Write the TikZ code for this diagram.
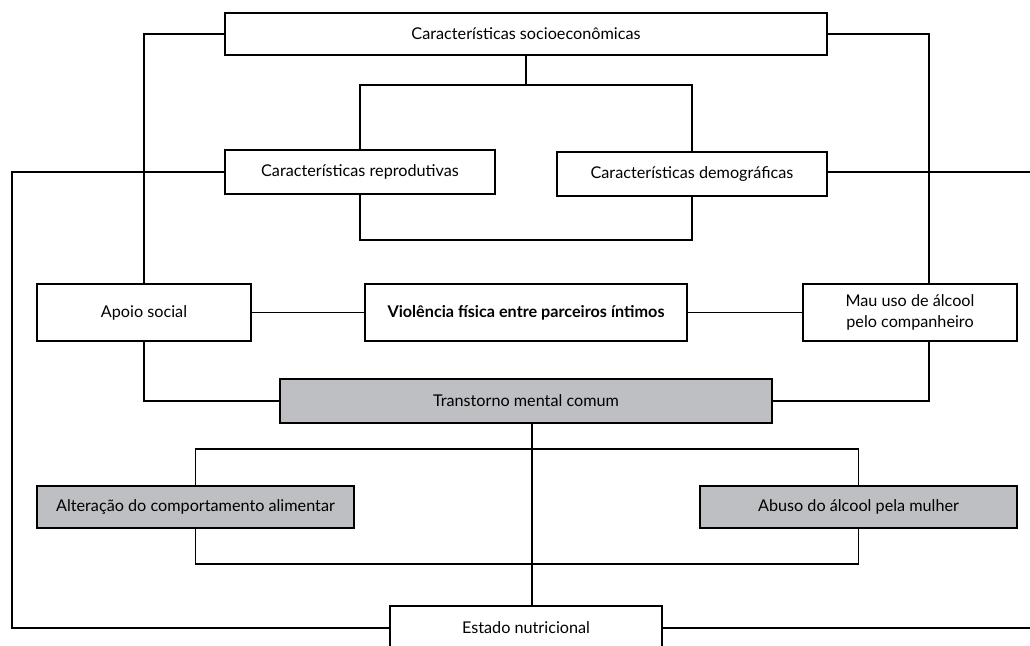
\documentclass[tikz,border=0pt]{standalone}
\usepackage{fontspec}
\setmainfont{Lato}
\definecolor{boxgray}{RGB}{190,191,194}
\tikzset{
  box/.style={draw,line width=1.3pt,fill=white,inner sep=2pt,align=center,font=\fontsize{16.2}{21}\selectfont},
  shaded/.style={box,fill=boxgray},
  link/.style={line width=1.3pt}
}
\begin{document}
\begin{tikzpicture}[x=1pt,y=-1pt]
  \useasboundingbox (0,0) rectangle (1030,645);
  % boxes
  \node[box,minimum width=602,minimum height=42] (socio) at (526,34) {Características socioeconômicas};
  \node[box,minimum width=270,minimum height=44] (reprod) at (360,172) {Características reprodutivas};
  \node[box,minimum width=270,minimum height=44] (demog) at (692,174) {Características demográficas};
  \node[box,minimum width=214,minimum height=57] (apoio) at (144,312.5) {Apoio social};
  \node[box,minimum width=322,minimum height=57] (viol) at (526,312.5) {\bfseries Violência física entre parceiros íntimos};
  \node[box,minimum width=214,minimum height=57] (mau) at (910,312.5) {Mau uso de álcool\\pelo companheiro};
  \node[shaded,minimum width=492,minimum height=44] (trans) at (526,401) {Transtorno mental comum};
  \node[shaded,minimum width=317,minimum height=42] (alter) at (195.5,507) {Alteração do comportamento alimentar};
  \node[shaded,minimum width=317,minimum height=42] (abuso) at (858.5,507) {Abuso do álcool pela mulher};
  \node[box,minimum width=272,minimum height=44] (estado) at (526,628) {Estado nutricional};

  \coordinate (sj) at (526,85);
  \coordinate (rdb) at (526,240);
  \coordinate (le) at (12,628);
  \coordinate (re1) at (1031,172);
  \coordinate (re2) at (1031,628);
  \coordinate (ab1) at (526,449);
  \coordinate (ab2) at (526,564);

  % connectors
  \draw[link] (socio.west) -| (apoio.north);
  \draw[link] (socio.east) -| ([xshift=19pt]mau.north);
  \draw[link] (socio.south) -- (sj);
  \draw[link] (reprod.north) |- (sj) -| (demog.north);
  \draw[link] (reprod.south) |- (rdb) -| (demog.south);
  \draw[link] (reprod.west) -| (le) -- (estado.west);
  \draw[link] (demog.east |- re1) -- (re1);
  \draw[link] (estado.east) -- (re2);
  \draw[link] (apoio) -- (viol) -- (mau);
  \draw[link] (apoio.south) |- (trans.west);
  \draw[link] ([xshift=19pt]mau.south) |- (trans.east);
  \draw[link] ([xshift=6pt]trans.south) -- ([xshift=6pt]estado.north);
  \draw[link] (alter.north) |- (ab1) -| (abuso.north);
  \draw[link] (alter.south) |- (ab2) -| (abuso.south);
\end{tikzpicture}
\end{document}
